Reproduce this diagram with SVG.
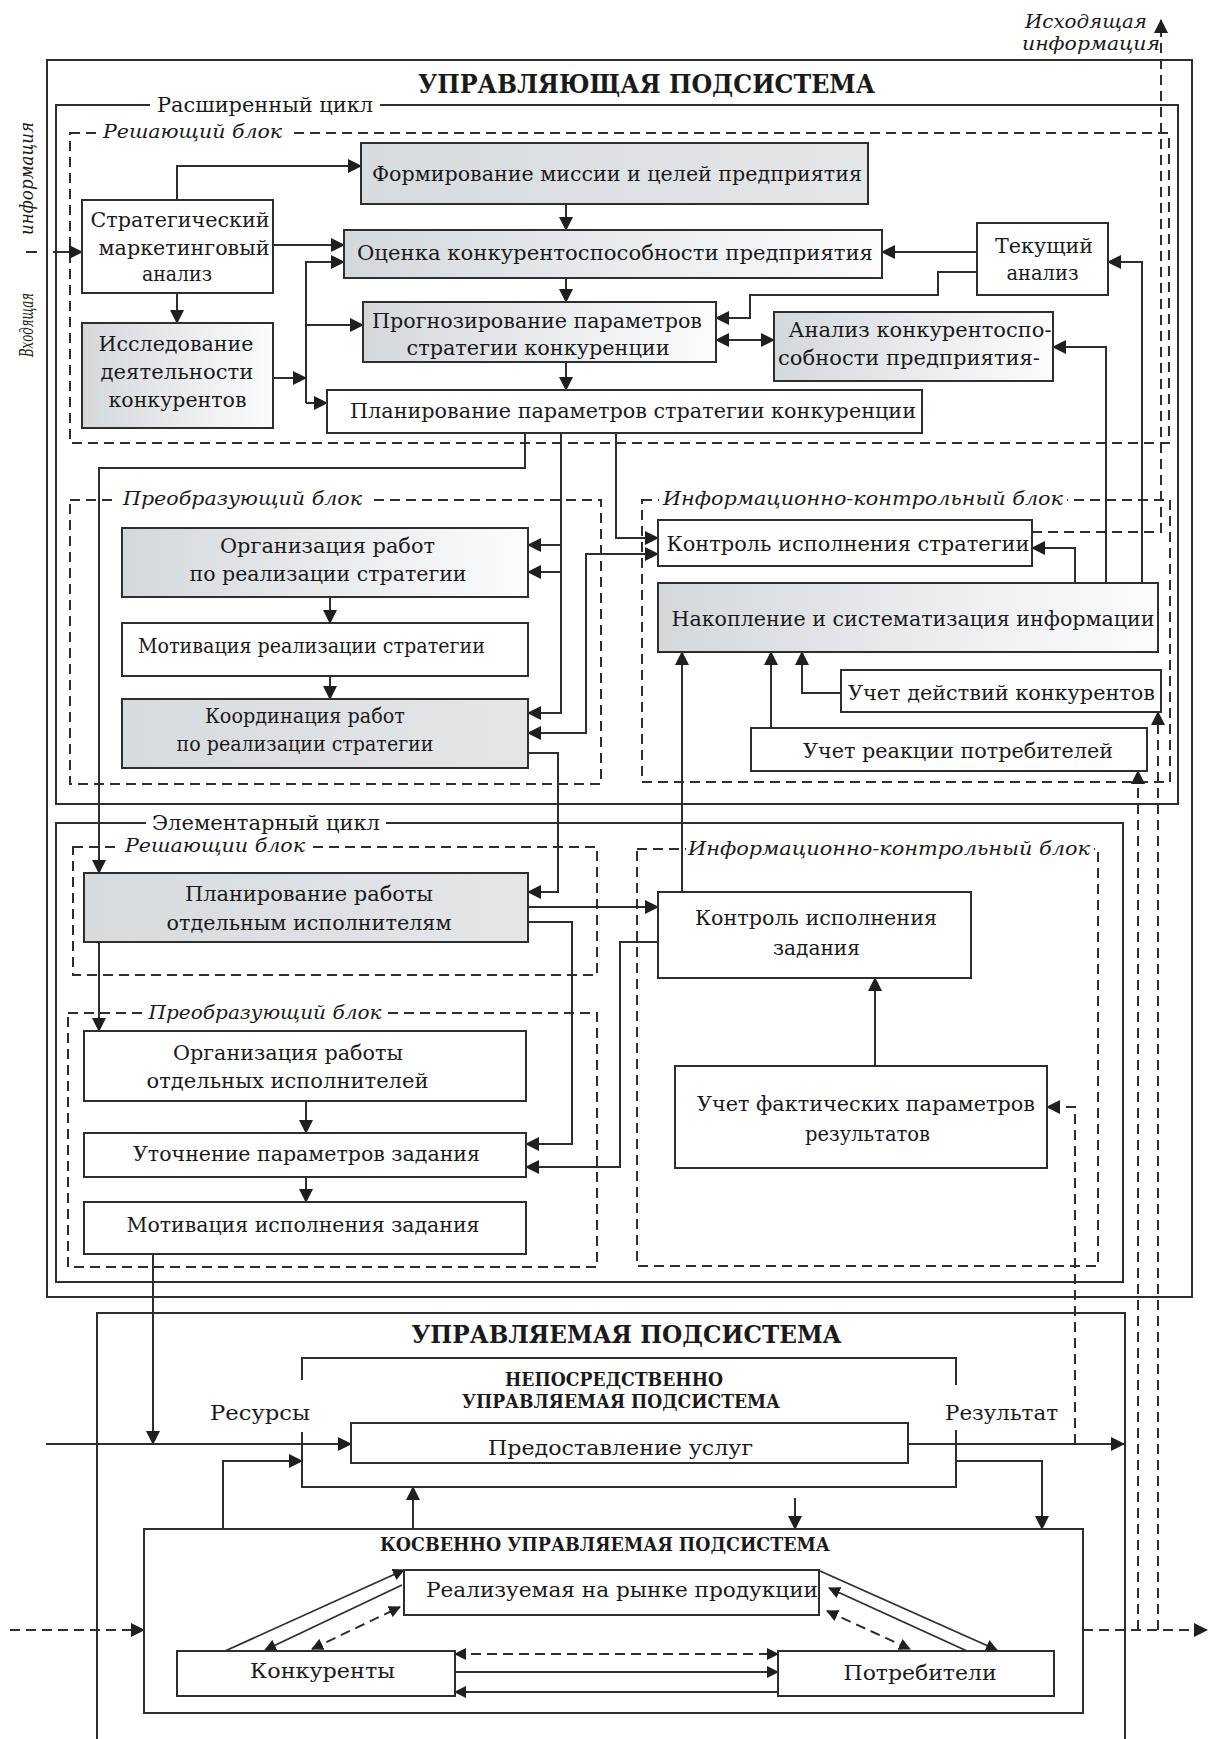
<svg xmlns="http://www.w3.org/2000/svg" width="1208" height="1739" viewBox="0 0 1208 1739">
<defs>
<linearGradient id="gr" x1="0" y1="0" x2="1" y2="0"><stop offset="0" stop-color="#d5d8db"/><stop offset="0.6" stop-color="#eceef0"/><stop offset="1" stop-color="#fcfcfd"/></linearGradient>
<linearGradient id="gr2" x1="0" y1="0" x2="1" y2="0"><stop offset="0" stop-color="#d8dbde"/><stop offset="1" stop-color="#e4e6e8"/></linearGradient>
<marker id="a" viewBox="0 0 14 14" markerWidth="14" markerHeight="14" refX="13" refY="7" orient="auto-start-reverse" markerUnits="userSpaceOnUse"><path d="M0,0 L14,7 L0,14 z" fill="#1f1f1f"/></marker>
<marker id="b" viewBox="0 0 12 12" markerWidth="12" markerHeight="12" refX="11" refY="6" orient="auto-start-reverse" markerUnits="userSpaceOnUse"><path d="M0,0 L12,6 L0,12 z" fill="#1f1f1f"/></marker>
</defs>
<style>
.fr{fill:none;stroke:#2e2e2e;stroke-width:2}
.dz{fill:none;stroke:#2e2e2e;stroke-width:2;stroke-dasharray:10 6}
.bx{fill:#fff;stroke:#2e2e2e;stroke-width:2}
.gb{fill:url(#gr);stroke:#2e2e2e;stroke-width:2}
.sb{fill:url(#gr2);stroke:#2e2e2e;stroke-width:2}
.mk{fill:#fff}
.ln{fill:none;stroke:#2e2e2e;stroke-width:2}
.ar{fill:none;stroke:#2e2e2e;stroke-width:2;marker-end:url(#a)}
.ar2{fill:none;stroke:#2e2e2e;stroke-width:2;marker-end:url(#a);marker-start:url(#a)}
.da{fill:none;stroke:#2e2e2e;stroke-width:2;stroke-dasharray:10 6;marker-end:url(#a)}
.da2{fill:none;stroke:#2e2e2e;stroke-width:2;stroke-dasharray:10 6;marker-end:url(#b);marker-start:url(#b)}
.sa{fill:none;stroke:#2e2e2e;stroke-width:1.8;marker-end:url(#b)}
text{font-family:"DejaVu Serif","Liberation Serif",serif;font-size:21px;fill:#1a1a1a;text-anchor:middle}
.it{font-style:italic;font-size:19px}
.bd{font-weight:bold}
</style>

<g id="frames">
<rect class="fr" x="47" y="60" width="1145" height="1237"/>
<rect class="fr" x="56" y="105" width="1122" height="699"/>
<rect class="fr" x="56" y="823" width="1067" height="459"/>
<path class="fr" d="M97,1739 V1313 H1125 V1739"/>
<rect class="dz" x="70" y="133" width="1099" height="310"/>
<rect class="dz" x="70" y="500" width="531" height="284"/>
<rect class="dz" x="642" y="500" width="528" height="282"/>
<rect class="dz" x="73" y="847" width="524" height="128"/>
<rect class="dz" x="68" y="1013" width="529" height="254"/>
<rect class="dz" x="637" y="849" width="461" height="417"/>
<rect class="mk" x="150" y="96" width="230" height="18"/>
<rect class="mk" x="98" y="124" width="190" height="18"/>
<rect class="mk" x="117" y="491" width="251" height="18"/>
<rect class="mk" x="659" y="491" width="408" height="18"/>
<rect class="mk" x="146" y="814" width="240" height="18"/>
<rect class="mk" x="120" y="838" width="190" height="18"/>
<rect class="mk" x="143" y="1004" width="244" height="18"/>
<rect class="mk" x="686" y="840" width="408" height="18"/>
<text class="bd" x="646.5" y="93" style="font-size:26px" textLength="457" lengthAdjust="spacingAndGlyphs">УПРАВЛЯЮЩАЯ ПОДСИСТЕМА</text>
<text x="265" y="112" textLength="216" lengthAdjust="spacingAndGlyphs">Расширенный цикл</text>
<text class="it" x="192.5" y="138" textLength="179" lengthAdjust="spacingAndGlyphs">Решающий блок</text>
<text class="it" x="242.5" y="505" textLength="239" lengthAdjust="spacingAndGlyphs">Преобразующий блок</text>
<text class="it" x="863" y="505" textLength="400" lengthAdjust="spacingAndGlyphs">Информационно-контрольный блок</text>
<text x="266" y="830" textLength="228" lengthAdjust="spacingAndGlyphs">Элементарный цикл</text>
<text class="it" x="215" y="852" textLength="180" lengthAdjust="spacingAndGlyphs">Решающии блок</text>
<text class="it" x="265" y="1019" textLength="233" lengthAdjust="spacingAndGlyphs">Преобразующий блок</text>
<text class="it" x="889" y="855" textLength="402" lengthAdjust="spacingAndGlyphs">Информационно-контрольный блок</text>
<text class="bd" x="626.5" y="1343" style="font-size:25px" textLength="430" lengthAdjust="spacingAndGlyphs">УПРАВЛЯЕМАЯ ПОДСИСТЕМА</text>
<text class="it" x="1086" y="28" textLength="122" lengthAdjust="spacingAndGlyphs">Исходящая</text>
<text class="it" x="1091" y="50" textLength="138" lengthAdjust="spacingAndGlyphs">информация</text>
<text class="it" transform="translate(33,325) rotate(-90)" x="0" y="0" textLength="64" lengthAdjust="spacingAndGlyphs">Входящая</text>
<text class="it" transform="translate(33,178.5) rotate(-90)" x="0" y="0" textLength="113" lengthAdjust="spacingAndGlyphs">информация</text>
<text x="260" y="1420" textLength="100" lengthAdjust="spacingAndGlyphs">Ресурсы</text>
<text x="1001.5" y="1420" textLength="113" lengthAdjust="spacingAndGlyphs">Результат</text>
</g>

<g id="connectors">
<path class="ln" d="M26,252 H37"/>
<path class="ar" d="M53,252 H82"/>
<path class="ar" d="M177,200 V166 H361"/>
<path class="ar" d="M273,245 H344"/>
<path class="ar" d="M177,293 V323"/>
<path class="ar" d="M306,403 V262 H344"/>
<path class="ar" d="M306,325 H363"/>
<path class="ar" d="M306,403 H327"/>
<path class="ar" d="M273,378 H306"/>
<path class="ar" d="M566,204 V230"/>
<path class="ar" d="M566,278 V302"/>
<path class="ar" d="M566,362 V390"/>
<path class="ar" d="M977,252 H882"/>
<path class="ar" d="M977,272 H938 V295 H750 V318 H716"/>
<path class="ar2" d="M716,340 H774"/>
<path class="ar" d="M1106,583 V347 H1053"/>
<path class="ar" d="M1142,583 V262 H1108"/>
<path class="ar" d="M1075,583 V548 H1032"/>
<path class="ar" d="M525,433 V468 H99 V873"/>
<path class="ar" d="M561,433 V545 H528"/>
<path class="ar" d="M561,545 V713 H528"/>
<path class="ar" d="M561,572 H528"/>
<path class="ar" d="M616,433 V538 H658"/>
<path class="ar2" d="M528,733 H586 V554 H658"/>
<path class="ar" d="M528,753 H558 V892 H528"/>
<path class="ar" d="M330,597 V623"/>
<path class="ar" d="M330,676 V699"/>
<path class="ar" d="M682,892 V652"/>
<path class="ar" d="M771,728 V652"/>
<path class="ar" d="M841,693 H802 V652"/>
<path class="da" d="M1032,532 H1161 V20"/>
<path class="da" d="M1083,1630 H1207"/>
<path class="da" d="M1138,1630 V771"/>
<path class="da" d="M1158,1630 V712"/>
<path class="ar" d="M99,942 V1031"/>
<path class="ar" d="M528,907 H658"/>
<path class="ar" d="M528,922 H572 V1144 H526"/>
<path class="ar" d="M658,942 H620 V1167 H526"/>
<path class="ar" d="M306,1101 V1133"/>
<path class="ar" d="M306,1177 V1202"/>
<path class="ar" d="M875,1066 V978"/>
<path class="ar" d="M153,1254 V1444"/>
<path class="ar" d="M46,1444 H351"/>
<path class="ar" d="M908,1444 H1124"/>
<path class="da" d="M1075,1444 V1107 H1047"/>
<path class="ar" d="M223,1529 V1461 H302"/>
<path class="ar" d="M413,1529 V1487"/>
<path class="ar" d="M795,1498 V1529"/>
<path class="ar" d="M956,1461 H1042 V1529"/>
<path class="da" d="M10,1630 H144"/>
<path class="sa" d="M225,1651 L404,1570"/>
<path class="sa" d="M402,1585 L265,1650"/>
<path class="da2" d="M312,1649 L400,1607"/>
<path class="sa" d="M820,1571 L997,1650"/>
<path class="sa" d="M967,1651 L829,1588"/>
<path class="da2" d="M827,1611 L910,1649"/>
<path class="da2" d="M455,1654 H778"/>
<path class="sa" d="M455,1672 H778"/>
<path class="sa" d="M778,1692 H455"/>
</g>

<g id="n-strat"><rect class="bx" x="82" y="200" width="191" height="93"/>
<text x="180" y="227" textLength="179" lengthAdjust="spacingAndGlyphs">Стратегический</text>
<text x="184" y="255" textLength="171" lengthAdjust="spacingAndGlyphs">маркетинговый</text>
<text x="177" y="281" textLength="70" lengthAdjust="spacingAndGlyphs">анализ</text></g>
<g id="n-issl"><rect class="gb" x="82" y="323" width="191" height="105"/>
<text x="176" y="351" textLength="155" lengthAdjust="spacingAndGlyphs">Исследование</text>
<text x="177" y="379" textLength="153" lengthAdjust="spacingAndGlyphs">деятельности</text>
<text x="177.5" y="407" textLength="138" lengthAdjust="spacingAndGlyphs">конкурентов</text></g>
<g id="n-form"><rect class="sb" x="361" y="143" width="507" height="61"/>
<text x="617" y="181" textLength="490" lengthAdjust="spacingAndGlyphs">Формирование миссии и целей предприятия</text></g>
<g id="n-ocen"><rect class="gb" x="344" y="230" width="538" height="48"/>
<text x="615" y="260" textLength="516" lengthAdjust="spacingAndGlyphs">Оценка конкурентоспособности предприятия</text></g>
<g id="n-prog"><rect class="gb" x="363" y="302" width="353" height="60"/>
<text x="537" y="328" textLength="330" lengthAdjust="spacingAndGlyphs">Прогнозирование параметров</text>
<text x="538" y="355" textLength="263" lengthAdjust="spacingAndGlyphs">стратегии конкуренции</text></g>
<g id="n-anal"><rect class="gb" x="774" y="312" width="279" height="69"/>
<text x="920" y="337" textLength="263" lengthAdjust="spacingAndGlyphs">Анализ конкурентоспо-</text>
<text x="909" y="365" textLength="262" lengthAdjust="spacingAndGlyphs">собности предприятия-</text></g>
<g id="n-plan"><rect class="bx" x="327" y="390" width="595" height="43"/>
<text x="633" y="418" textLength="566" lengthAdjust="spacingAndGlyphs">Планирование параметров стратегии конкуренции</text></g>
<g id="n-tek"><rect class="bx" x="977" y="223" width="131" height="72"/>
<text x="1044" y="253" textLength="98" lengthAdjust="spacingAndGlyphs">Текущий</text>
<text x="1042.5" y="280" textLength="72" lengthAdjust="spacingAndGlyphs">анализ</text></g>
<g id="n-org"><rect class="gb" x="122" y="528" width="406" height="69"/>
<text x="327.5" y="553" textLength="215" lengthAdjust="spacingAndGlyphs">Организация работ</text>
<text x="328" y="581" textLength="277" lengthAdjust="spacingAndGlyphs">по реализации стратегии</text></g>
<g id="n-motr"><rect class="bx" x="122" y="623" width="406" height="53"/>
<text x="311.5" y="653" textLength="347" lengthAdjust="spacingAndGlyphs">Мотивация реализации стратегии</text></g>
<g id="n-koord"><rect class="sb" x="122" y="699" width="406" height="69"/>
<text x="305" y="723" textLength="200" lengthAdjust="spacingAndGlyphs">Координация работ</text>
<text x="305" y="751" textLength="257" lengthAdjust="spacingAndGlyphs">по реализации стратегии</text></g>
<g id="n-kontr"><rect class="bx" x="658" y="520" width="374" height="46"/>
<text x="848" y="551" textLength="363" lengthAdjust="spacingAndGlyphs">Контроль исполнения стратегии</text></g>
<g id="n-nak"><rect class="gb" x="658" y="583" width="500" height="69"/>
<text x="913" y="626" textLength="483" lengthAdjust="spacingAndGlyphs">Накопление и систематизация информации</text></g>
<g id="n-ud"><rect class="bx" x="841" y="670" width="320" height="42"/>
<text x="1001.5" y="700" textLength="307" lengthAdjust="spacingAndGlyphs">Учет действий конкурентов</text></g>
<g id="n-ur"><rect class="bx" x="751" y="728" width="396" height="43"/>
<text x="958" y="758" textLength="310" lengthAdjust="spacingAndGlyphs">Учет реакции потребителей</text></g>
<g id="n-planr"><rect class="sb" x="84" y="873" width="444" height="69"/>
<text x="309" y="901" textLength="248" lengthAdjust="spacingAndGlyphs">Планирование работы</text>
<text x="309" y="930" textLength="285" lengthAdjust="spacingAndGlyphs">отдельным исполнителям</text></g>
<g id="n-kz"><rect class="bx" x="658" y="892" width="313" height="86"/>
<text x="816" y="925" textLength="242" lengthAdjust="spacingAndGlyphs">Контроль исполнения</text>
<text x="816.5" y="955" textLength="87" lengthAdjust="spacingAndGlyphs">задания</text></g>
<g id="n-orgr"><rect class="bx" x="84" y="1031" width="442" height="70"/>
<text x="288" y="1060" textLength="230" lengthAdjust="spacingAndGlyphs">Организация работы</text>
<text x="287.5" y="1088" textLength="282" lengthAdjust="spacingAndGlyphs">отдельных исполнителей</text></g>
<g id="n-ut"><rect class="bx" x="84" y="1133" width="442" height="44"/>
<text x="306.5" y="1161" textLength="347" lengthAdjust="spacingAndGlyphs">Уточнение параметров задания</text></g>
<g id="n-motz"><rect class="bx" x="84" y="1202" width="442" height="52"/>
<text x="303" y="1232" textLength="353" lengthAdjust="spacingAndGlyphs">Мотивация исполнения задания</text></g>
<g id="n-fakt"><rect class="bx" x="675" y="1066" width="372" height="102"/>
<text x="866" y="1111" textLength="338" lengthAdjust="spacingAndGlyphs">Учет фактических параметров</text>
<text x="867.5" y="1141" textLength="125" lengthAdjust="spacingAndGlyphs">результатов</text></g>
<g id="n-nep"><path class="fr" d="M302,1380 V1358 H956 V1385 M302,1432 V1487 H956 V1430"/>
<text class="bd" x="614" y="1386" style="font-size:19px" textLength="218" lengthAdjust="spacingAndGlyphs">НЕПОСРЕДСТВЕННО</text>
<text class="bd" x="621" y="1408" style="font-size:19px" textLength="318" lengthAdjust="spacingAndGlyphs">УПРАВЛЯЕМАЯ ПОДСИСТЕМА</text></g>
<g id="n-pred"><rect class="bx" x="351" y="1423" width="557" height="40"/>
<text x="620.5" y="1455" textLength="265" lengthAdjust="spacingAndGlyphs">Предоставление услуг</text></g>
<g id="n-kos"><rect class="fr" x="144" y="1529" width="939" height="184"/>
<text class="bd" x="605" y="1551" style="font-size:19px" textLength="450" lengthAdjust="spacingAndGlyphs">КОСВЕННО УПРАВЛЯЕМАЯ ПОДСИСТЕМА</text></g>
<g id="n-real"><rect class="bx" x="404" y="1570" width="415" height="45"/>
<text x="622" y="1597" textLength="392" lengthAdjust="spacingAndGlyphs">Реализуемая на рынке продукции</text></g>
<g id="n-konk"><rect class="bx" x="177" y="1651" width="278" height="45"/>
<text x="322.5" y="1678" textLength="145" lengthAdjust="spacingAndGlyphs">Конкуренты</text></g>
<g id="n-potr"><rect class="bx" x="778" y="1651" width="276" height="45"/>
<text x="920" y="1680" textLength="153" lengthAdjust="spacingAndGlyphs">Потребители</text></g>
</svg>
